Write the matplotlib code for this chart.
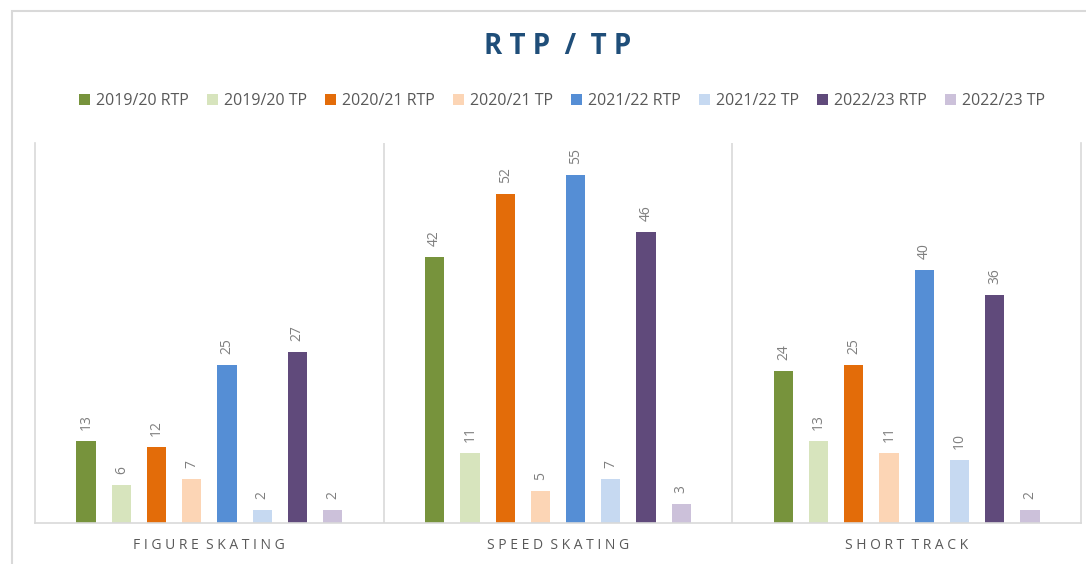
import matplotlib
matplotlib.use("Agg")
import matplotlib.pyplot as plt
from matplotlib.patches import Rectangle
import numpy as np

categories = ["FIGURE SKATING", "SPEED SKATING", "SHORT TRACK"]
series_names = ["2019/20 RTP", "2019/20 TP", "2020/21 RTP", "2020/21 TP",
                "2021/22 RTP", "2021/22 TP", "2022/23 RTP", "2022/23 TP"]
rtp_1920 = [13, 42, 24]
tp_1920 = [6, 11, 13]
rtp_2021 = [12, 52, 25]
tp_2021 = [7, 5, 11]
rtp_2122 = [25, 55, 40]
tp_2122 = [2, 7, 10]
rtp_2223 = [27, 46, 36]
tp_2223 = [2, 3, 2]
series_values = [rtp_1920, tp_1920, rtp_2021, tp_2021, rtp_2122, tp_2122, rtp_2223, tp_2223]
colors = ["#77933C", "#D7E4BD", "#E36C09", "#FCD5B5",
          "#558ED5", "#C6D9F1", "#604A7B", "#CCC1DA"]

plt.rcParams['font.family'] = ['Open Sans', 'DejaVu Sans']

fig = plt.figure(figsize=(10.86, 5.64), dpi=100)
fig.patches.append(Rectangle((12/1086, -0.1), 1.2, 1 - 11/564 + 0.1, transform=fig.transFigure,
                             fill=False, edgecolor="#D9D9D9", linewidth=1.5, zorder=0))
ax = fig.add_axes([35/1086, 1 - 523/564, (1081 - 35)/1086, (523 - 143)/564])

n = len(series_names)
slot = 0.101
width = 0.055
x = np.arange(len(categories))
handles = []
for i, (name, vals, c) in enumerate(zip(series_names, series_values, colors)):
    pos = x + (i - (n - 1) / 2) * slot
    bars = ax.bar(pos, vals, width=width, color=c, label=name, zorder=2)
    handles.append(bars)
    for b, v in zip(bars, vals):
        ax.annotate(str(v), (b.get_x() + b.get_width() / 2, v), xytext=(0, 8),
                    textcoords="offset points", rotation=90, ha="center", va="bottom",
                    fontsize=10, color="#7F7F7F")

ax.set_xlim(-0.5, len(categories) - 0.5)
ax.set_ylim(0, 60)
ax.set_yticks([])
ax.set_xticks(x)
ax.set_xticklabels([" ".join(list(c)).replace("   ", "  ") for c in categories],
                   fontsize=10, color="#595959")
ax.tick_params(axis="x", length=0, pad=11)
for b in np.arange(0.5, len(categories) - 1, 1.0):
    ax.axvline(b, color="#D9D9D9", linewidth=1.2, zorder=1)
for s in ["left", "right", "bottom"]:
    ax.spines[s].set_color("#D9D9D9")
    ax.spines[s].set_linewidth(1.2)
ax.spines["top"].set_visible(False)

fig.text(558/1086, 1 - 47/564, "R T P  /  T P", ha="center", va="center",
         fontsize=20, fontweight="bold", color="#1F4E79")
fig.legend(handles=handles, labels=series_names, loc="center",
           bbox_to_anchor=(562/1086, 1 - 101/564), ncol=8, frameon=False,
           fontsize=11.5, labelcolor="#595959", handlelength=0.7, handleheight=0.7,
           handletextpad=0.4, columnspacing=1.1)

fig.savefig("out.png", dpi=100)
